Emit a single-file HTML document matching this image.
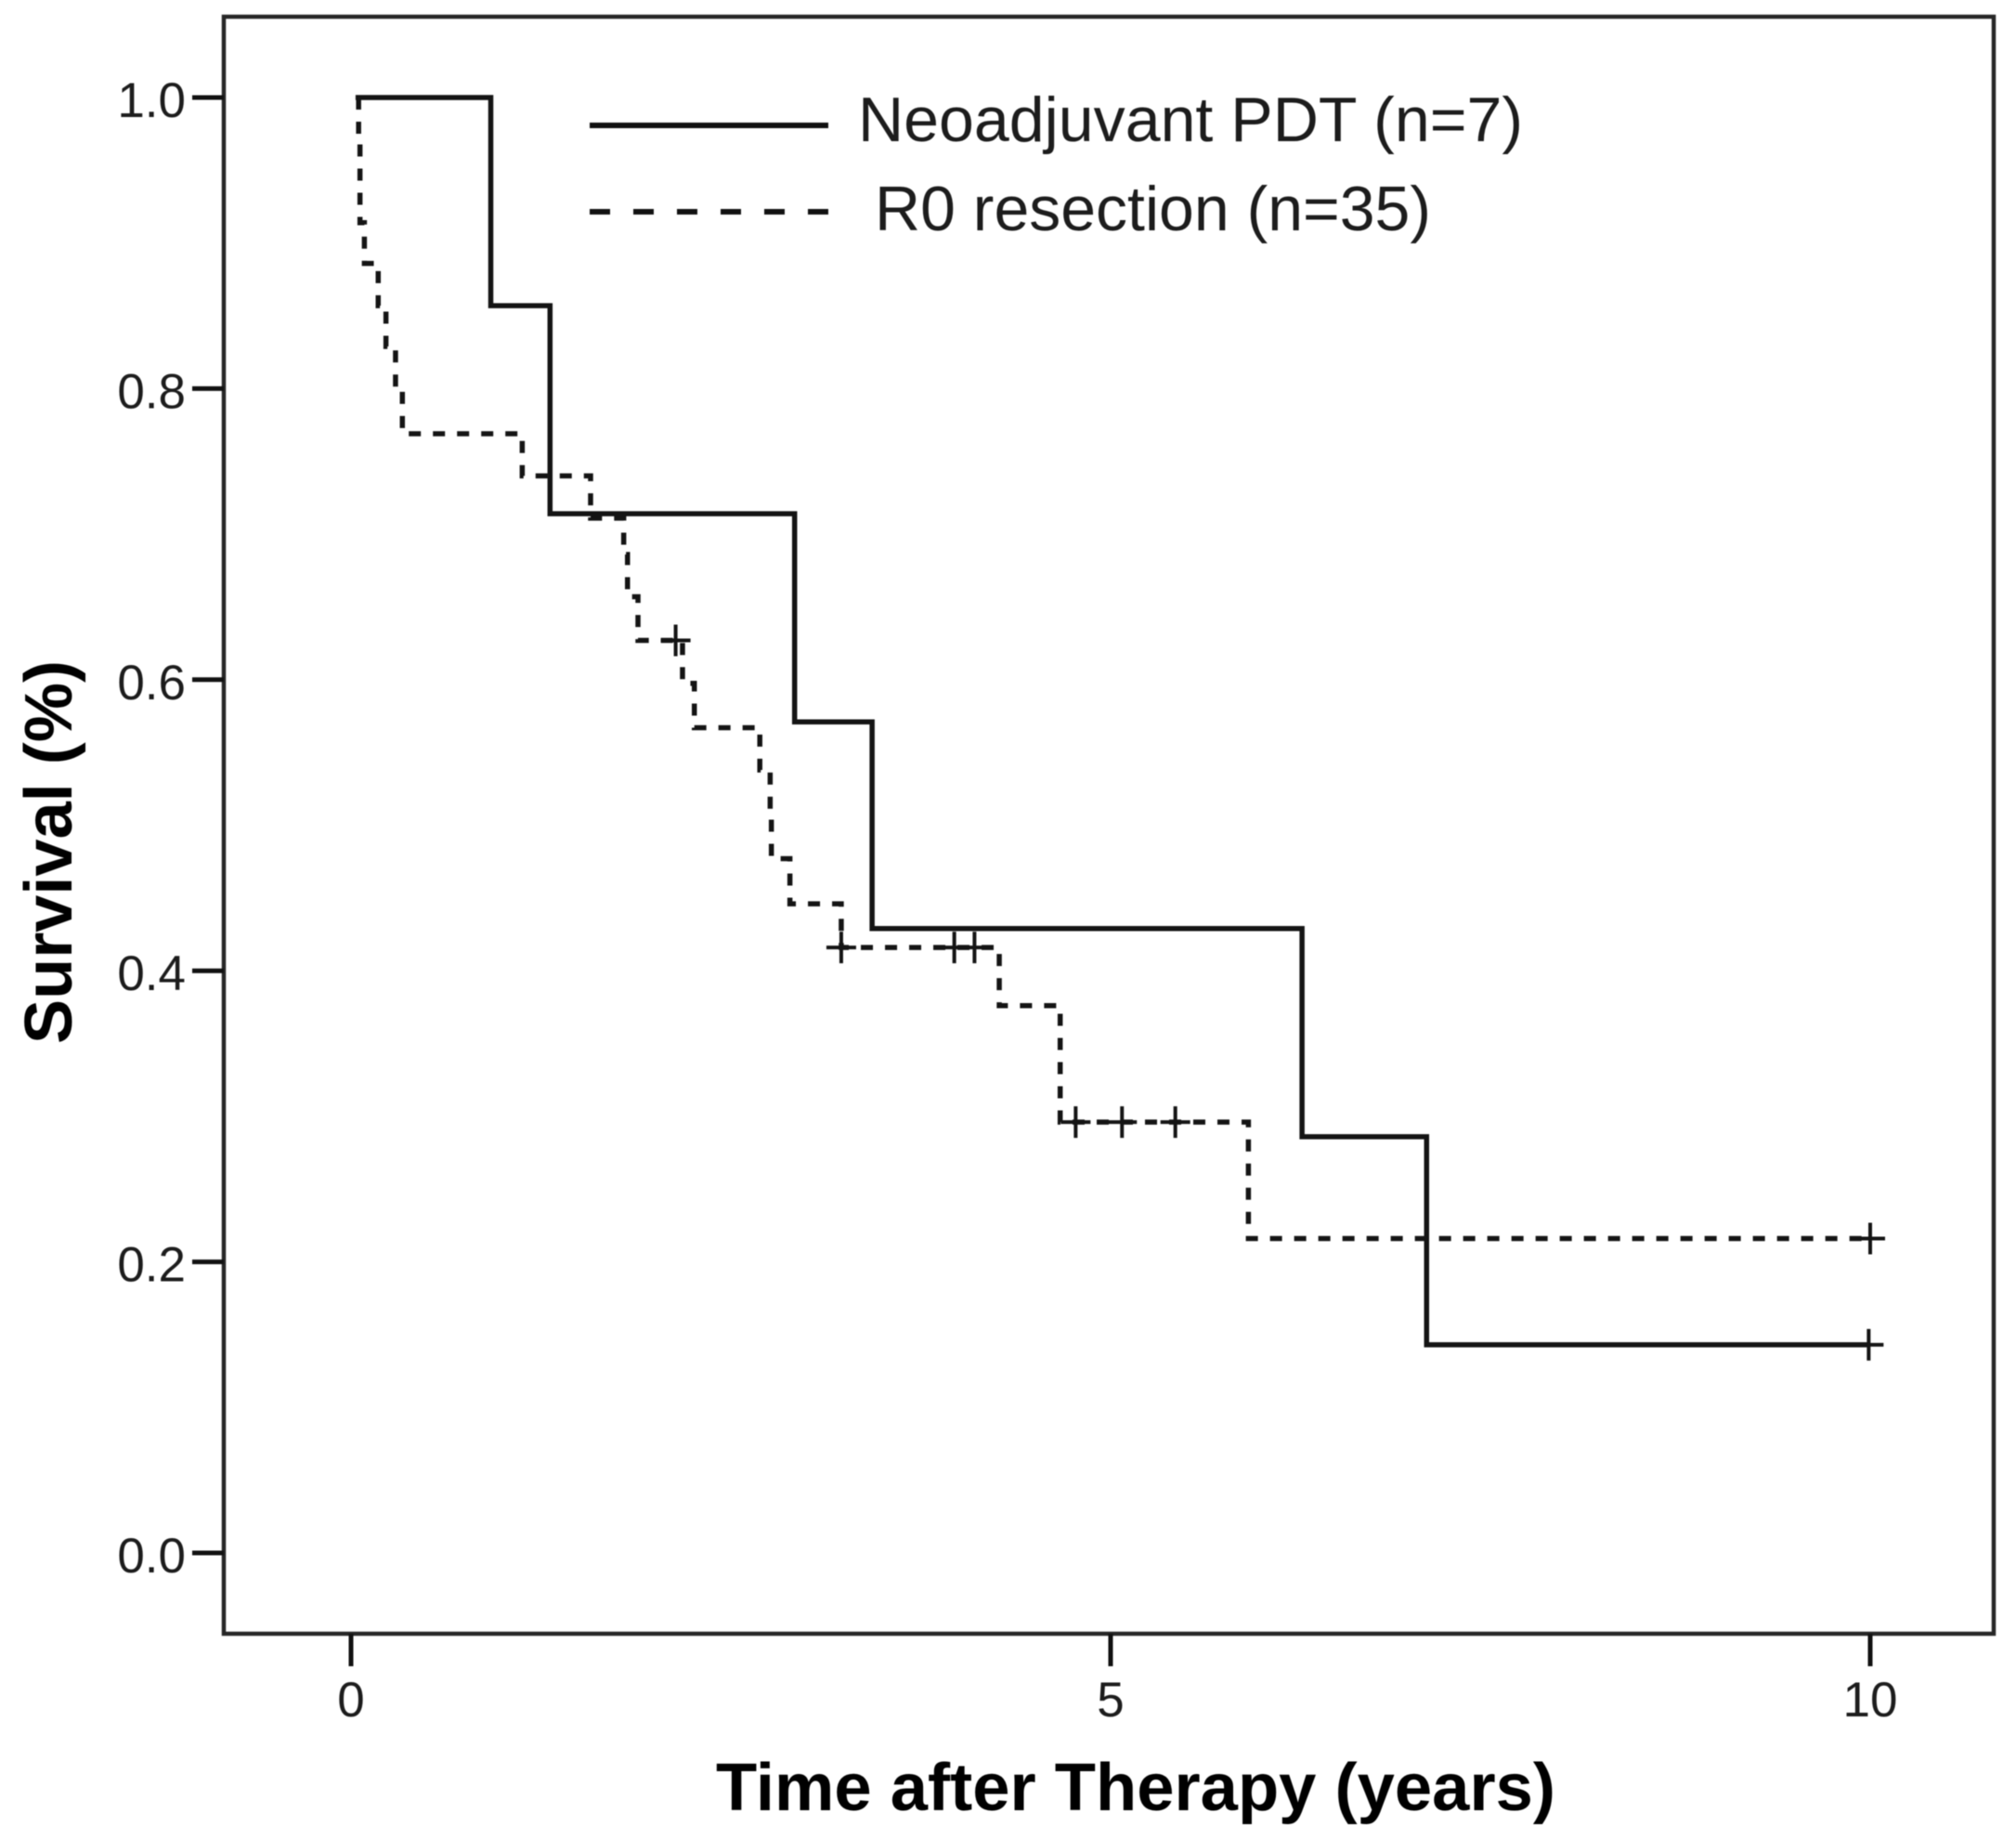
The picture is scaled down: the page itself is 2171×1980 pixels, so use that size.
<!DOCTYPE html>
<html lang="en">
<head>
<meta charset="utf-8">
<title>Survival after Neoadjuvant PDT vs R0 resection</title>
<style>
html,body{margin:0;padding:0;background:#fff;width:2171px;height:1980px;overflow:hidden}
svg{display:block;filter:blur(0.6px)}
text{font-family:"Liberation Sans",Arial,sans-serif;fill:#1c1c1c}
</style>
</head>
<body>
<svg id="chart" xmlns="http://www.w3.org/2000/svg" width="2171" height="1980" viewBox="0 0 2171 1980">
  <rect x="0" y="0" width="2171" height="1980" fill="#ffffff"/>
  <rect x="241" y="18" width="1906" height="1741" fill="none" stroke="#262626" stroke-width="4.5"/>
  <g id="y-axis"></g>
  <g id="x-axis"></g>
  <g id="series"></g>
  <g>
    <line x1="635" y1="135" x2="892" y2="135" stroke="#111" stroke-width="6"/>
    <text x="924" y="152" font-size="68" textLength="716" lengthAdjust="spacingAndGlyphs">Neoadjuvant PDT (n=7)</text>
    <line x1="635" y1="228" x2="892" y2="228" stroke="#111" stroke-width="6" stroke-dasharray="22 25"/>
    <text x="942" y="248" font-size="68" textLength="599" lengthAdjust="spacingAndGlyphs">R0 resection (n=35)</text>
  </g>
  <text transform="translate(77 1124) rotate(-90)" font-size="72" font-weight="bold" textLength="413" lengthAdjust="spacingAndGlyphs" style="fill:#000">Survival (%)</text>
  <text x="771" y="1949" font-size="72" font-weight="bold" textLength="904" lengthAdjust="spacingAndGlyphs" style="fill:#000">Time after Therapy (years)</text>
</svg>
<script>
const yTicks = [0.0, 0.2, 0.4, 0.6, 0.8, 1.0];
const yTickLabels = ["0.0", "0.2", "0.4", "0.6", "0.8", "1.0"];
const xTicks = [0, 5, 10];
const xTickLabels = ["0", "5", "10"];

const neoStartTimes = [0.03, 0.92, 1.31, 2.92, 3.43, 6.26, 7.08];
const neoSurvival = [1.0, 0.857, 0.714, 0.571, 0.429, 0.286, 0.143];
const neoEndTime = 9.99;
const neoCensorTimes = [9.99];
const neoCensorSurvival = [0.143];

const r0StartTimes = [0.05, 0.05, 0.059, 0.059, 0.088, 0.179, 0.23, 0.293, 0.338, 1.127, 1.577, 1.795, 1.82, 1.889, 2.182, 2.26, 2.691, 2.759, 2.767, 2.889, 3.227, 4.267, 4.668, 5.907];
const r0Survival = [1.0, 0.971, 0.943, 0.914, 0.886, 0.857, 0.829, 0.8, 0.769, 0.74, 0.711, 0.686, 0.657, 0.627, 0.5975, 0.567, 0.538, 0.511, 0.477, 0.446, 0.416, 0.376, 0.296, 0.216];
const r0EndTime = 10;
const r0CensorTimes = [2.137, 3.227, 3.971, 4.104, 4.77, 5.075, 5.426, 10];
const r0CensorSurvival = [0.627, 0.416, 0.416, 0.416, 0.296, 0.296, 0.296, 0.216];

const NS = "http://www.w3.org/2000/svg";
function xAxisScale(t) { return 378 + t * 163.6; }
function yAxisScale(v) { return 1672 - v * 1567; }
function make(tag, attrs, parent) {
  const el = document.createElementNS(NS, tag);
  for (const k in attrs) el.setAttribute(k, attrs[k]);
  parent.appendChild(el);
  return el;
}
function stepPath(starts, levels, end) {
  let d = "M" + xAxisScale(starts[0]) + " " + yAxisScale(levels[0]);
  for (let i = 1; i < starts.length; i++) {
    d += "H" + xAxisScale(starts[i]) + "V" + yAxisScale(levels[i]);
  }
  return d + "H" + xAxisScale(end);
}

const yAxisGroup = document.getElementById("y-axis");
yTicks.forEach(function (v, i) {
  const y = yAxisScale(v);
  const tick = make("line", {x1: 207, x2: 241, y1: y, y2: y, stroke: "#111", "stroke-width": 5}, yAxisGroup);
  
  
  const label = make("text", {x: 200, y: y + 21, "text-anchor": "end", "font-size": 53}, yAxisGroup);
  
  
  label.textContent = yTickLabels[i];
});

const xAxisGroup = document.getElementById("x-axis");
xTicks.forEach(function (t, i) {
  const x = xAxisScale(t);
  const tick = make("line", {x1: x, x2: x, y1: 1759, y2: 1794, stroke: "#111", "stroke-width": 5}, xAxisGroup);
  
  
  const label = make("text", {x: x, y: 1848, "text-anchor": "middle", "font-size": 53}, xAxisGroup);
  
  
  label.textContent = xTickLabels[i];
});

const seriesGroup = document.getElementById("series");

const neoLine = make("path", {d: stepPath(neoStartTimes, neoSurvival, neoEndTime), fill: "none", stroke: "#141414", "stroke-width": 5.5, "stroke-linejoin": "miter"}, seriesGroup);



const r0Line = make("path", {d: stepPath(r0StartTimes, r0Survival, r0EndTime), fill: "none", stroke: "#141414", "stroke-width": 5.5, "stroke-dasharray": "13 13"}, seriesGroup);



function drawCensor(t, v) {
  const x = xAxisScale(t), y = yAxisScale(v);
  const d = "M" + (x - 16) + " " + y + "H" + (x + 16) + "M" + x + " " + (y - 17) + "V" + (y + 17);
  return make("path", {d: d, fill: "none", stroke: "#141414", "stroke-width": 4}, seriesGroup);
}
neoCensorTimes.forEach(function (t, i) {
  const mark = drawCensor(t, neoCensorSurvival[i]);
  
  
});
r0CensorTimes.forEach(function (t, i) {
  const mark = drawCensor(t, r0CensorSurvival[i]);
  
  
});
</script>
</body>
</html>
